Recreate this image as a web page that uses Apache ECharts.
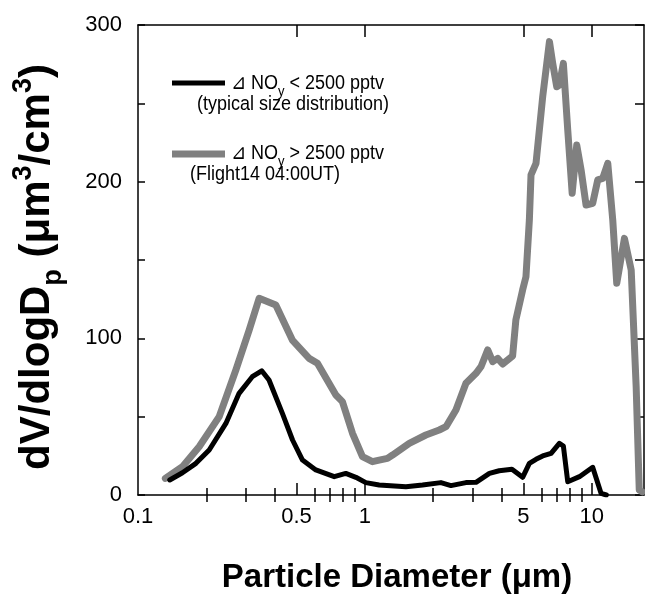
<!DOCTYPE html>
<html>
<head>
<meta charset="utf-8">
<script src="https://cdn.jsdelivr.net/npm/echarts@6/dist/echarts.min.js"></script>
<style>html,body{margin:0;padding:0;background:#fff}#c{width:645px;height:595px}</style>
</head>
<body>
<div id="c"></div>
<script>
// Particle diameter (µm) and dV/dlogDp (µm3/cm3)
var typicalD = [0.138,0.157,0.180,0.206,0.244,0.279,0.319,0.351,0.378,0.433,0.480,0.531,0.608,0.733,0.824,0.913,1.01,1.156,1.517,1.795,2.164,2.396,2.79,3.09,3.54,3.91,4.45,4.96,5.31,5.68,6.08,6.62,7.20,7.50,7.84,8.83,10.1,11.0,11.6];
var typicalV = [9.6,14.2,20.2,28.7,45.7,64.9,75.5,79.3,73.4,52.1,35.1,22.3,16.0,11.7,13.8,11.3,7.9,6.4,5.3,6.4,7.9,6.0,7.9,8.1,13.8,15.5,16.4,11.3,20.2,22.8,24.9,26.6,33.0,31.3,8.5,11.7,17.7,1.0,0];

var flightD = [0.132,0.157,0.186,0.228,0.270,0.309,0.342,0.405,0.479,0.568,0.618,0.745,0.796,0.882,0.976,1.080,1.156,1.258,1.324,1.569,1.858,2.128,2.278,2.52,2.79,3.09,3.25,3.48,3.66,3.85,4.05,4.48,4.63,4.96,5.13,5.31,5.40,5.68,6.08,6.51,6.73,7.01,7.20,7.50,7.84,8.20,8.59,8.98,9.44,10.1,10.63,11.18,11.77,12.38,12.89,13.94,14.93,15.7,16.2,16.7];
var flightV = [10.6,18.1,30.8,50.0,79.8,105.3,125.6,121.3,98.9,87.2,84.1,63.8,59.6,39.4,24.5,21.3,22.3,23.4,25.5,33.0,38.3,41.5,43.6,54.3,71.3,77.7,81.9,92.6,85.1,87.2,83.6,88.7,111.7,130.9,139.3,175.5,204.3,211.7,254.2,289.4,275.5,260.6,261.7,275.5,233.0,192.6,223.4,207.4,185.1,186.2,201.1,202.1,211.7,175.5,135.1,163.8,143.6,69.1,3.2,2.0];

var xLabelValues = [0.1, 0.5, 1, 5, 10];
var xMajorTicks = [0.5, 1, 5, 10];
var xMinorTicks = [0.2,0.3,0.4,0.6,0.7,0.8,0.9,2,3,4,6,7,8,9];
var yLabelValues = [0, 100, 200, 300];

var FONT = "'Liberation Sans', Arial, Helvetica, sans-serif";

function pairs(xs, ys) { return xs.map(function (x, i) { return [x, ys[i]]; }); }

function xAx(pos, ticks, len, opts) {
  var a = {
    type: 'log', logBase: 10, min: 0.1, max: 17, position: pos,
    axisLine: { show: true, onZero: false, lineStyle: { color: '#000', width: 1.5 } },
    axisTick: { show: true, inside: true, length: len, customValues: ticks, lineStyle: { color: '#000', width: 1.5 } },
    axisLabel: { show: false },
    splitLine: { show: false }, minorTick: { show: false }
  };
  for (var k in opts) a[k] = opts[k];
  return a;
}

var subRich = { fontSize: 13, fontFamily: FONT, fill: '#000', verticalAlign: 'bottom', lineHeight: 13, padding: [0, 0, -5, 0] };

var chart = echarts.init(document.getElementById('c'), null, { renderer: 'canvas' });
chart.setOption({
  animation: false,
  backgroundColor: '#fff',
  grid: { left: 138, right: 1, top: 25, bottom: 100, containLabel: false, outerBoundsMode: 'none' },
  xAxis: [
    xAx('bottom', xMajorTicks, 12, {
      axisLabel: { show: true, customValues: xLabelValues, color: '#000', fontSize: 22, fontFamily: FONT, margin: 11,
        formatter: function (v) { return String(+v.toPrecision(3)); } },
      name: 'Particle Diameter (μm)', nameLocation: 'middle', nameGap: 66,
      nameTextStyle: { color: '#000', fontSize: 33, fontWeight: 'bold', fontFamily: FONT, padding: [0, 0, 0, 12] }
    }),
    xAx('bottom', xMinorTicks, 7, { axisLine: { show: false } }),
    xAx('top', xMajorTicks, 12, {}),
    xAx('top', xMinorTicks, 7, { axisLine: { show: false } })
  ],
  yAxis: [
    {
      type: 'value', min: 0, max: 300, interval: 50, position: 'left',
      axisLine: { show: true, lineStyle: { color: '#000', width: 1.5 } },
      axisTick: { show: true, inside: true, length: 7, lineStyle: { color: '#000', width: 1.5 } },
      axisLabel: { color: '#000', fontSize: 22, fontFamily: FONT, margin: 16, customValues: yLabelValues },
      splitLine: { show: false },
      name: 'dV/dlogD{sub|p} (μm{sup|3}/cm{sup|3})', nameLocation: 'middle', nameGap: 80, nameRotate: 90,
      nameTextStyle: {
        color: '#000', fontSize: 42, fontWeight: 'bold', fontFamily: FONT, padding: [0, 14, 0, 0],
        rich: {
          sub: { fontSize: 27, fontWeight: 'bold', fontFamily: FONT, color: '#000', verticalAlign: 'bottom', lineHeight: 27, padding: [0, 0, -9, 0] },
          sup: { fontSize: 27, fontWeight: 'bold', fontFamily: FONT, color: '#000', verticalAlign: 'top', lineHeight: 27, padding: [-6, 0, 0, 0] }
        }
      }
    },
    {
      type: 'value', min: 0, max: 300, interval: 50, position: 'right',
      axisLine: { show: true, lineStyle: { color: '#000', width: 1.5 } },
      axisTick: { show: true, inside: true, length: 9, lineStyle: { color: '#000', width: 1.5 } },
      axisLabel: { show: false }, splitLine: { show: false }
    }
  ],
  series: [
    { name: 'typical', type: 'line', xAxisIndex: 0, yAxisIndex: 0, data: pairs(typicalD, typicalV),
      showSymbol: false, symbol: 'none', lineStyle: { color: '#000', width: 5, join: 'round', cap: 'round' }, z: 3 },
    { name: 'flight14', type: 'line', xAxisIndex: 0, yAxisIndex: 0, data: pairs(flightD, flightV),
      showSymbol: false, symbol: 'none', lineStyle: { color: '#808080', width: 7, join: 'round', cap: 'round' }, z: 2 }
  ],
  graphic: [
    { type: 'line', shape: { x1: 172, y1: 83, x2: 225, y2: 83 }, style: { stroke: '#000', lineWidth: 5 } },
    { type: 'text', x: 231, y: 83, scaleY: 1.15, style: { text: '⊿ NO{sub|y} < 2500 pptv', fill: '#000', font: '18px ' + FONT, textVerticalAlign: 'middle', rich: { sub: subRich } } },
    { type: 'text', x: 197, y: 104, scaleY: 1.15, style: { text: '(typical size distribution)', fill: '#000', font: '18px ' + FONT, textVerticalAlign: 'middle' } },
    { type: 'line', shape: { x1: 172, y1: 154, x2: 225, y2: 154 }, style: { stroke: '#808080', lineWidth: 7 } },
    { type: 'text', x: 231, y: 153, scaleY: 1.15, style: { text: '⊿ NO{sub|y} > 2500 pptv', fill: '#000', font: '18px ' + FONT, textVerticalAlign: 'middle', rich: { sub: subRich } } },
    { type: 'text', x: 190, y: 174, scaleY: 1.15, style: { text: '(Flight14 04:00UT)', fill: '#000', font: '18px ' + FONT, textVerticalAlign: 'middle' } }
  ]
});
</script>
</body>
</html>
